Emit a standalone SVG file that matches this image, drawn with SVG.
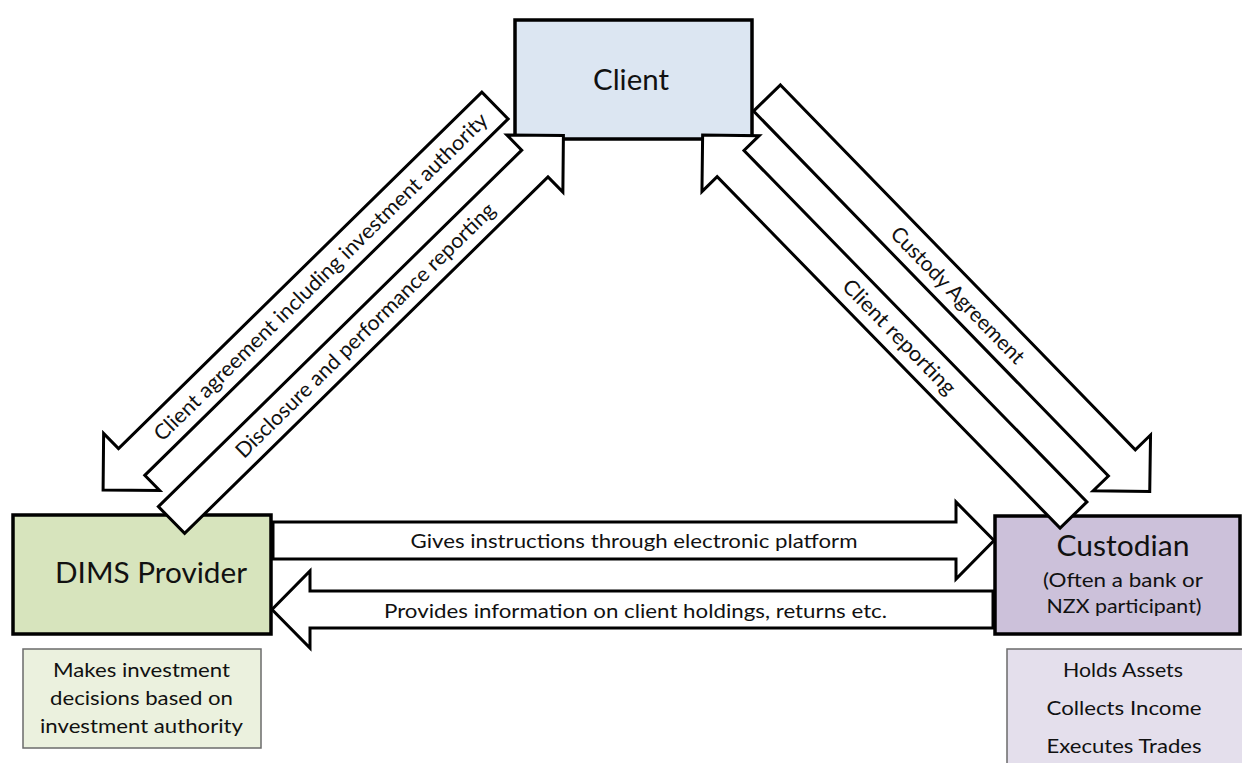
<svg xmlns="http://www.w3.org/2000/svg" width="1242" height="763" viewBox="0 0 1242 763">
<style>
text{font-family:Lato,"Liberation Sans",sans-serif;fill:#111;}
.box{stroke:#000;stroke-width:3.5;}
.note{stroke:#6b6b6b;stroke-width:1.5;}
.arrow{fill:#fff;stroke:#000;stroke-width:3;stroke-linejoin:miter;}
.big{font-size:29px;}
.mid{font-size:20px;}
.lbl{font-size:20px;}
.dlbl{font-size:21px;}
</style>
<defs>
<polygon id="diag549" points="0,-18.75 509,-18.75 509,-40 549,0 509,40 509,18.75 0,18.75"/>
</defs>
<rect width="1242" height="763" fill="#fff"/>

<g id="client">
<rect class="box" x="515" y="20" width="237" height="119" fill="#dce6f2"/>
<text class="big" x="631" y="90" text-anchor="middle" textLength="76" lengthAdjust="spacingAndGlyphs">Client</text>
</g>

<g id="dims-provider">
<rect class="box" x="13" y="515" width="258" height="119" fill="#d7e4bd"/>
<text class="big" x="151" y="583" text-anchor="middle" textLength="192" lengthAdjust="spacingAndGlyphs">DIMS Provider</text>
</g>

<g id="custodian">
<rect class="box" x="995" y="516" width="245" height="118" fill="#ccc1da"/>
<text class="big" x="1123" y="556" text-anchor="middle" textLength="133" lengthAdjust="spacingAndGlyphs">Custodian</text>
<text class="mid" x="1123" y="587" text-anchor="middle" textLength="160" lengthAdjust="spacingAndGlyphs">(Often a bank or</text>
<text class="mid" x="1124" y="613" text-anchor="middle" textLength="155" lengthAdjust="spacingAndGlyphs">NZX participant)</text>
</g>

<g id="dims-note">
<rect class="note" x="23" y="649" width="238" height="99" fill="#ebf1de"/>
<text class="mid" x="141.5" y="677" text-anchor="middle" textLength="177" lengthAdjust="spacingAndGlyphs">Makes investment</text>
<text class="mid" x="141.5" y="705" text-anchor="middle" textLength="183" lengthAdjust="spacingAndGlyphs">decisions based on</text>
<text class="mid" x="141.5" y="733" text-anchor="middle" textLength="203" lengthAdjust="spacingAndGlyphs">investment authority</text>
</g>

<g id="custodian-note">
<rect class="note" x="1007" y="649" width="245" height="125" fill="#e4dfec"/>
<text class="mid" x="1123" y="677" text-anchor="middle" textLength="120" lengthAdjust="spacingAndGlyphs">Holds Assets</text>
<text class="mid" x="1124" y="715" text-anchor="middle" textLength="155" lengthAdjust="spacingAndGlyphs">Collects Income</text>
<text class="mid" x="1124" y="753" text-anchor="middle" textLength="155" lengthAdjust="spacingAndGlyphs">Executes Trades</text>
</g>

<g id="connectors">
<use class="arrow" href="#diag549" transform="translate(495,105.5) rotate(135.55)"/>
<use class="arrow" href="#diag549" transform="translate(171.5,520) rotate(-44.45)"/>
<use class="arrow" href="#diag549" transform="translate(767,98) rotate(45.8)"/>
<polygon class="arrow" points="0,-18.75 491,-18.75 491,-40 531,0 491,40 491,18.75 0,18.75" transform="translate(1073.5,515) rotate(225.7)"/>
<polygon class="arrow" points="273,522 956,522 956,502 994,540.5 956,579 956,559 273,559"/>
<polygon class="arrow" points="993,591 310,591 310,571 272,609.5 310,648 310,628 993,628"/>

<text class="dlbl" transform="translate(320.5,276.6) rotate(-44.45)" text-anchor="middle" dy="7.5" textLength="458" lengthAdjust="spacingAndGlyphs">Client agreement including investment authority</text>
<text class="dlbl" transform="translate(365,330) rotate(-44.45)" text-anchor="middle" dy="7.5" textLength="354" lengthAdjust="spacingAndGlyphs">Disclosure and performance reporting</text>
<text class="dlbl" transform="translate(958,295) rotate(45.8)" text-anchor="middle" dy="7.5" textLength="182" lengthAdjust="spacingAndGlyphs">Custody Agreement</text>
<text class="dlbl" transform="translate(899.5,336.6) rotate(45.7)" text-anchor="middle" dy="7.5" textLength="152" lengthAdjust="spacingAndGlyphs">Client reporting</text>
<text class="lbl" x="634" y="548" text-anchor="middle" textLength="447" lengthAdjust="spacingAndGlyphs">Gives instructions through electronic platform</text>
<text class="lbl" x="635.5" y="618" text-anchor="middle" textLength="503" lengthAdjust="spacingAndGlyphs">Provides information on client holdings, returns etc.</text>
</g>
</svg>
